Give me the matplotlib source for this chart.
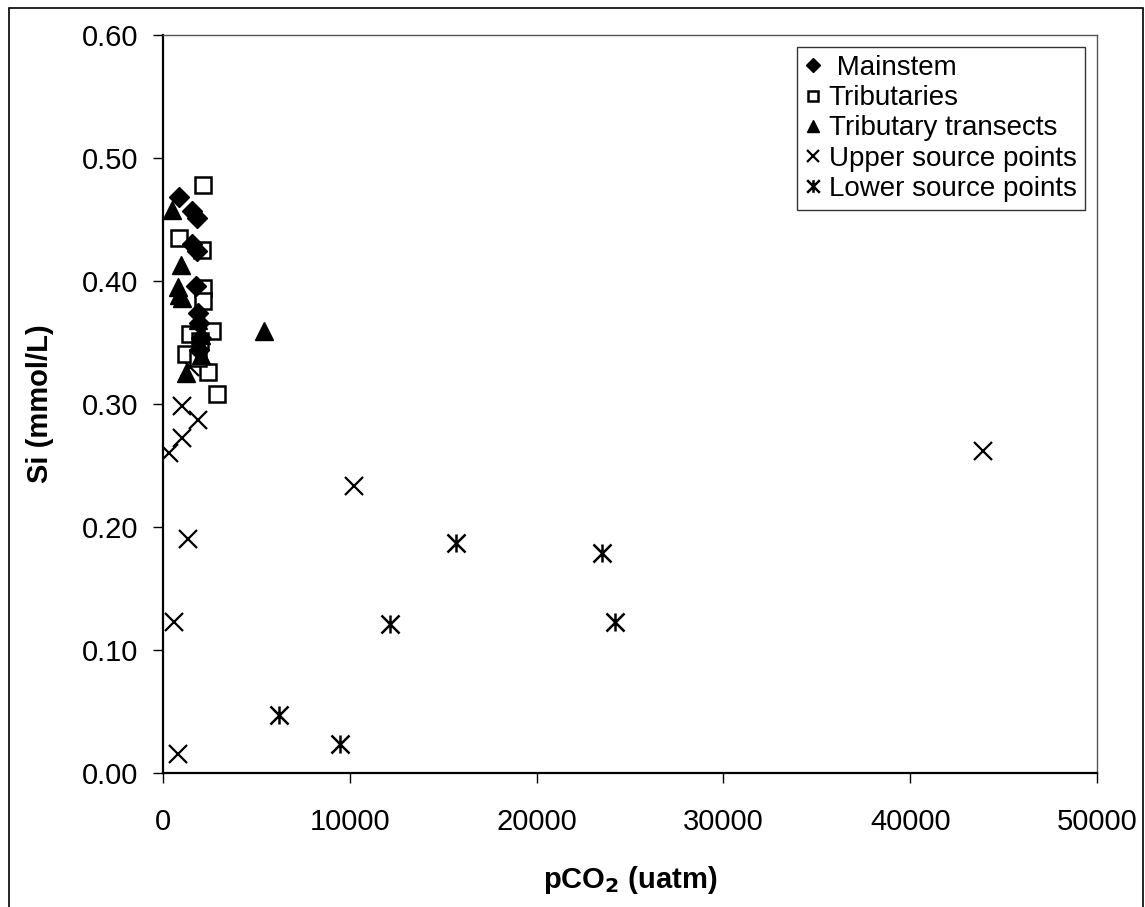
"""Si versus pCO2 scatter for the river survey groups. Writes out.png."""

import matplotlib
matplotlib.use("Agg")
import matplotlib.pyplot as plt
from matplotlib.patches import Rectangle
from matplotlib.path import Path

plt.rcParams["font.family"] = ["Liberation Sans", "DejaVu Sans"]

# --- survey data: pCO2 (uatm) and Si (mmol/L) ---
mainstem_pco2 = [870, 1550, 1800, 1550, 1800, 1780, 1900, 1950, 2050, 1950]
mainstem_si = [0.468, 0.457, 0.451, 0.430, 0.424, 0.396, 0.374, 0.366, 0.354, 0.344]

tributary_pco2 = [2150, 880, 2070, 2150, 2150, 1450, 2600, 1250, 2000, 2420, 2870, 1900]
tributary_si = [0.478, 0.435, 0.425, 0.394, 0.384, 0.357, 0.359, 0.341, 0.351, 0.326, 0.308, 0.337]

transect_pco2 = [460, 950, 820, 1000, 870, 1900, 2050, 2050, 1250, 5400]
transect_si = [0.458, 0.413, 0.395, 0.386, 0.389, 0.368, 0.356, 0.340, 0.325, 0.359]

upper_pco2 = [310, 590, 780, 1330, 1015, 1015, 1875, 1450, 10230, 43900]
upper_si = [0.260, 0.123, 0.0155, 0.190, 0.272, 0.298, 0.287, 0.330, 0.233, 0.262]

lower_pco2 = [6200, 9450, 12150, 15700, 23500, 24200]
lower_si = [0.047, 0.0235, 0.121, 0.187, 0.179, 0.123]

x_ticks = [0, 10000, 20000, 30000, 40000, 50000]
y_ticks = [0.0, 0.1, 0.2, 0.3, 0.4, 0.5, 0.6]

# an "x" with a vertical stroke through it
ASTERISK = Path(
    [(-1, -1), (1, 1), (-1, 1), (1, -1), (0, -1), (0, 1)],
    [Path.MOVETO, Path.LINETO, Path.MOVETO, Path.LINETO, Path.MOVETO, Path.LINETO],
)

fig = plt.figure(figsize=(11.45, 9.07), dpi=100)
fig.patches.append(Rectangle((9 / 1145, -0.01), 1134 / 1145, 1 - 8 / 907 + 0.01,
                             transform=fig.transFigure, fill=False,
                             edgecolor="black", linewidth=1.2))
ax = fig.add_axes([163 / 1145, 1 - 773 / 907, 934 / 1145, 738 / 907])

ax.plot(upper_pco2, upper_si, linestyle="none", marker="x", markersize=13,
        markeredgewidth=1.6, color="black", label="Upper source points")
ax.plot(lower_pco2, lower_si, linestyle="none", marker=ASTERISK, markersize=13,
        markeredgewidth=1.8, color="black", label="Lower source points")
ax.plot(tributary_pco2, tributary_si, linestyle="none", marker="s", markersize=11,
        markerfacecolor="white", markeredgecolor="black", markeredgewidth=1.8,
        label="Tributaries")
ax.plot(transect_pco2, transect_si, linestyle="none", marker="^", markersize=13,
        color="black", label="Tributary transects")
ax.plot(mainstem_pco2, mainstem_si, linestyle="none", marker="D", markersize=10,
        color="black", label=" Mainstem")

ax.set_xlim(0, 50000)
ax.set_ylim(0, 0.6)
ax.set_xticks(x_ticks)
ax.set_yticks(y_ticks)
ax.set_yticklabels([f"{v:.2f}" for v in y_ticks])
ax.tick_params(direction="out", length=7, width=1, labelsize=21)
ax.tick_params(axis="x", pad=18)
ax.tick_params(axis="y", pad=11)

for side in ("left", "bottom"):
    ax.spines[side].set_linewidth(1.6)
for side in ("top", "right"):
    ax.spines[side].set_linewidth(1.0)
    ax.spines[side].set_color("#555555")

ax.set_xlabel("pCO$_\\mathbf{2}$ (uatm)", fontsize=21, fontweight="bold", labelpad=20)
ax.set_ylabel("Si (mmol/L)", fontsize=21, fontweight="bold", labelpad=20)

handles, labels = ax.get_legend_handles_labels()
order = [4, 2, 3, 0, 1]
legend = ax.legend([handles[i] for i in order], [labels[i] for i in order],
                   loc="upper right", bbox_to_anchor=(0.987, 0.984),
                   fontsize=20, frameon=True, fancybox=False, edgecolor="black",
                   markerscale=0.7, labelspacing=0.15, handlelength=0.6,
                   handletextpad=0.25, borderpad=0.3, borderaxespad=0)
legend.get_frame().set_linewidth(1.0)

fig.savefig("out.png", dpi=100, facecolor="white")
